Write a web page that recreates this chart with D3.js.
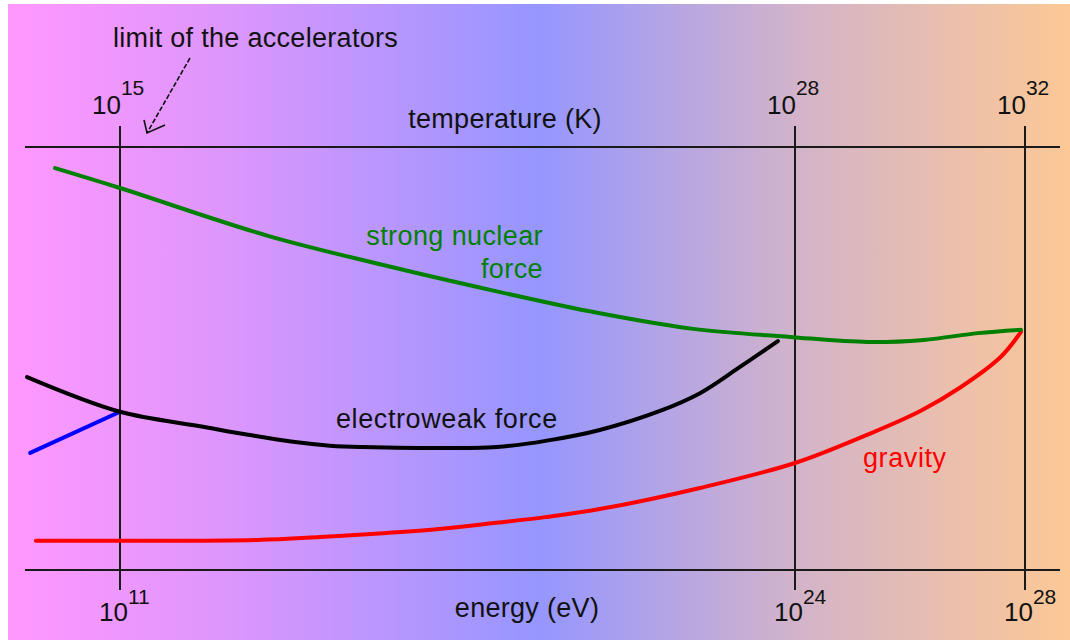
<!DOCTYPE html>
<html><head><meta charset="utf-8">
<script src="https://cdn.jsdelivr.net/npm/d3@7"></script>
<style>
html,body{margin:0;padding:0;background:#fff;}
svg{display:block;}
text{font-family:"Liberation Sans",Arial,sans-serif;}
</style></head>
<body>
<svg id="chart" width="1070" height="643"></svg>
<script>
// ---- data (x = log10 of energy in eV, y = relative strength, arbitrary units) ----
const energyTicks = [11, 24, 28];           // 10^11, 10^24, 10^28 eV
const temperatureTicks = [15, 28, 32];      // 10^15, 10^28, 10^32 K
const energyLabel = "energy (eV)";
const temperatureLabel = "temperature (K)";

const strongE = [9.75, 11, 13.85, 16.07, 18.32, 20.19, 22.04, 23.9, 25.26, 26.24, 27.18, 27.93];
const strongV = [95.0, 90.3, 79.0, 72.1, 65.7, 60.8, 57.0, 55.1, 53.9, 54.4, 56.0, 56.8];

const electroweakE = [9.21, 11, 12.54, 13.5, 14.33, 15.04, 15.62, 18.26, 19.28, 20.24, 21.4, 22.17, 22.94, 23.67];
const electroweakV = [45.6, 37.4, 34.0, 31.9, 30.3, 29.4, 29.1, 29.1, 30.7, 33.1, 37.6, 41.8, 48.0, 54.1];

const electromagE = [9.27, 11];
const electromagV = [27.7, 37.4];

const gravityE = [9.38, 11, 13.64, 14.85, 16.07, 17.14, 18.2, 19.19, 20.24, 22.17, 24, 25.26, 26.18, 26.88, 27.58, 27.93];
const gravityV = [6.9, 6.9, 7.1, 7.8, 8.7, 9.7, 11.1, 12.5, 14.4, 19.4, 25.3, 32.0, 37.6, 43.2, 50.4, 56.3];

// ---- drawing ----
const svg = d3.select("#chart");
const x = d3.scaleLinear().domain(energyTicks).range([120, 795, 1025]);
const xT = d3.scaleLinear().domain(temperatureTicks).range([120, 795, 1025]);
const y = d3.scaleLinear().domain([0, 100]).range([570, 147]);

const defs = svg.append("defs");
const grad = defs.append("linearGradient").attr("id", "bg")
  .attr("gradientUnits", "userSpaceOnUse").attr("x1", 8).attr("x2", 1070).attr("y1", 0).attr("y2", 0);
[[0, "rgb(255,152,255)"], [0.2, "rgb(222,150,252)"], [0.5, "rgb(150,150,255)"], [0.75, "rgb(212,180,200)"], [1, "rgb(252,200,150)"]]
  .forEach(([o, c]) => grad.append("stop").attr("offset", o).attr("stop-color", c));
svg.append("rect").attr("x", 8).attr("y", 4).attr("width", 1062).attr("height", 636).attr("fill", "url(#bg)");

const axisColor = "#1a1a1a";
const xMin = 25, xMax = 1060;
[y(100), y(0)].forEach(yy => svg.append("line").attr("x1", xMin).attr("x2", xMax)
  .attr("y1", yy).attr("y2", yy).attr("stroke", axisColor).attr("stroke-width", 2));
svg.selectAll("line.v").data(energyTicks).join("line").attr("class", "v")
  .attr("x1", d => x(d)).attr("x2", d => x(d)).attr("y1", 126).attr("y2", 590)
  .attr("stroke", axisColor).attr("stroke-width", 2);

function power(g, px, py, exp, off, supDy) {
  const t = g.append("text").attr("x", px + off).attr("y", py).attr("font-size", 26).attr("fill", "#111");
  t.append("tspan").text("10");
  t.append("tspan").attr("dy", supDy).attr("font-size", 21).text(exp);
}
temperatureTicks.forEach(d => power(svg, xT(d), 114, d, -28, -19));
energyTicks.forEach(d => power(svg, x(d), 621, d, -21, -17));

const fs = 27;
svg.append("text").attr("x", 505).attr("y", 128).attr("text-anchor", "middle")
  .attr("font-size", fs).attr("letter-spacing", 0.3).attr("fill", "#111").text(temperatureLabel);
svg.append("text").attr("x", 527).attr("y", 617).attr("text-anchor", "middle")
  .attr("font-size", fs).attr("letter-spacing", 0.3).attr("fill", "#111").text(energyLabel);

svg.append("text").attr("x", 113).attr("y", 47).attr("font-size", fs).attr("letter-spacing", 0.3)
  .attr("fill", "#111").text("limit of the accelerators");
svg.append("path").attr("d", "M190,58 L147,133").attr("stroke", "#111").attr("stroke-width", 1.6)
  .attr("stroke-dasharray", "5,2").attr("fill", "none");
svg.append("path").attr("d", "M144,120 L147,133 L165,125").attr("stroke", "#111").attr("stroke-width", 1.6).attr("fill", "none");

const line = d3.line().x(d => x(d[0])).y(d => y(d[1])).curve(d3.curveCatmullRom.alpha(0.5));
const series = [
  {E: gravityE, V: gravityV, c: "#ff0000"},
  {E: electromagE, V: electromagV, c: "#0000ff"},
  {E: electroweakE, V: electroweakV, c: "#000000"},
  {E: strongE, V: strongV, c: "#008000"}
];
series.forEach(s => {
  svg.append("path").datum(d3.zip(s.E, s.V)).attr("d", line)
    .attr("fill", "none").attr("stroke", s.c).attr("stroke-width", 4)
    .attr("stroke-linejoin", "round").attr("stroke-linecap", "round");
});

svg.append("text").attr("x", 543).attr("y", 245).attr("text-anchor", "end").attr("font-size", fs)
  .attr("letter-spacing", 0.4).attr("fill", "#008000").text("strong nuclear");
svg.append("text").attr("x", 543).attr("y", 278).attr("text-anchor", "end").attr("font-size", fs)
  .attr("letter-spacing", 0.4).attr("fill", "#008000").text("force");
svg.append("text").attr("x", 336).attr("y", 428).attr("font-size", fs)
  .attr("letter-spacing", 0.6).attr("fill", "#111").text("electroweak force");
svg.append("text").attr("x", 863).attr("y", 467).attr("font-size", fs)
  .attr("letter-spacing", 0.6).attr("fill", "#ff0000").text("gravity");
</script>
</body></html>
